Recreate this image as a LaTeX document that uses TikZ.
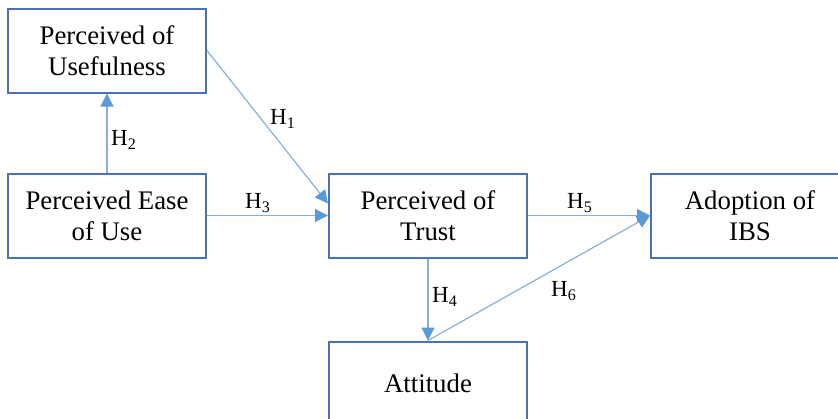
\documentclass[tikz,border=0pt]{standalone}
\usepackage{fontspec}
\setmainfont{Liberation Serif}
\usetikzlibrary{arrows.meta,positioning}
\definecolor{boxblue}{HTML}{4A70B5}
\definecolor{lineblue}{HTML}{8AAED8}
\definecolor{headblue}{HTML}{5B9BD5}

\begin{document}
\begin{tikzpicture}[x=0.5pt,y=-0.5pt,
      construct/.style={
         rectangle,
         draw=boxblue,
         line width=1pt,
         minimum width=99pt,
         minimum height=42pt,
         inner sep=0pt,
         align=center,
         font=\fontsize{13.4}{15.5}\selectfont
      },
      hyp/.style={
         draw=lineblue,
         line width=0.6pt,
         -{Triangle[length=6.5pt,width=6.5pt,color=headblue]}
      },
      hlabel/.style={inner sep=0pt,font=\fontsize{11.5}{13}\selectfont}
    ]
    \useasboundingbox (0,0) rectangle (838,418);
    % constructs
    \node (peu) [construct] at (107,215.5) {Perceived Ease\\of Use};
    \node (pu)  [construct, above=39.5pt of peu] {Perceived of\\Usefulness};
    \node (pt)  [construct, right=60.5pt of peu] {Perceived of\\Trust};
    \node (ibs) [construct, right=61pt of pt] {Adoption of\\IBS};
    \node (att) [construct, below=41pt of pt] {Attitude};
    % hypotheses
    \draw [hyp] (peu.north) -- (pu.south);
    \draw [hyp] (pu.east) -- ([yshift=6pt]pt.west);
    \draw [hyp] (peu.east) -- (pt.west);
    \draw [hyp] (pt.south) -- (att.north);
    \draw [hyp] (pt.east) -- (ibs.west);
    \draw [hyp] (att.north) -- (ibs.west);
    % labels
    \node (h1) [hlabel] at (283,119) {H\textsubscript{1}};
    \node (h2) [hlabel] at (124,140) {H\textsubscript{2}};
    \node (h3) [hlabel] at (258,203) {H\textsubscript{3}};
    \node (h4) [hlabel] at (445,297) {H\textsubscript{4}};
    \node (h5) [hlabel] at (580,203) {H\textsubscript{5}};
    \node (h6) [hlabel] at (564,291) {H\textsubscript{6}};
\end{tikzpicture}
\end{document}
